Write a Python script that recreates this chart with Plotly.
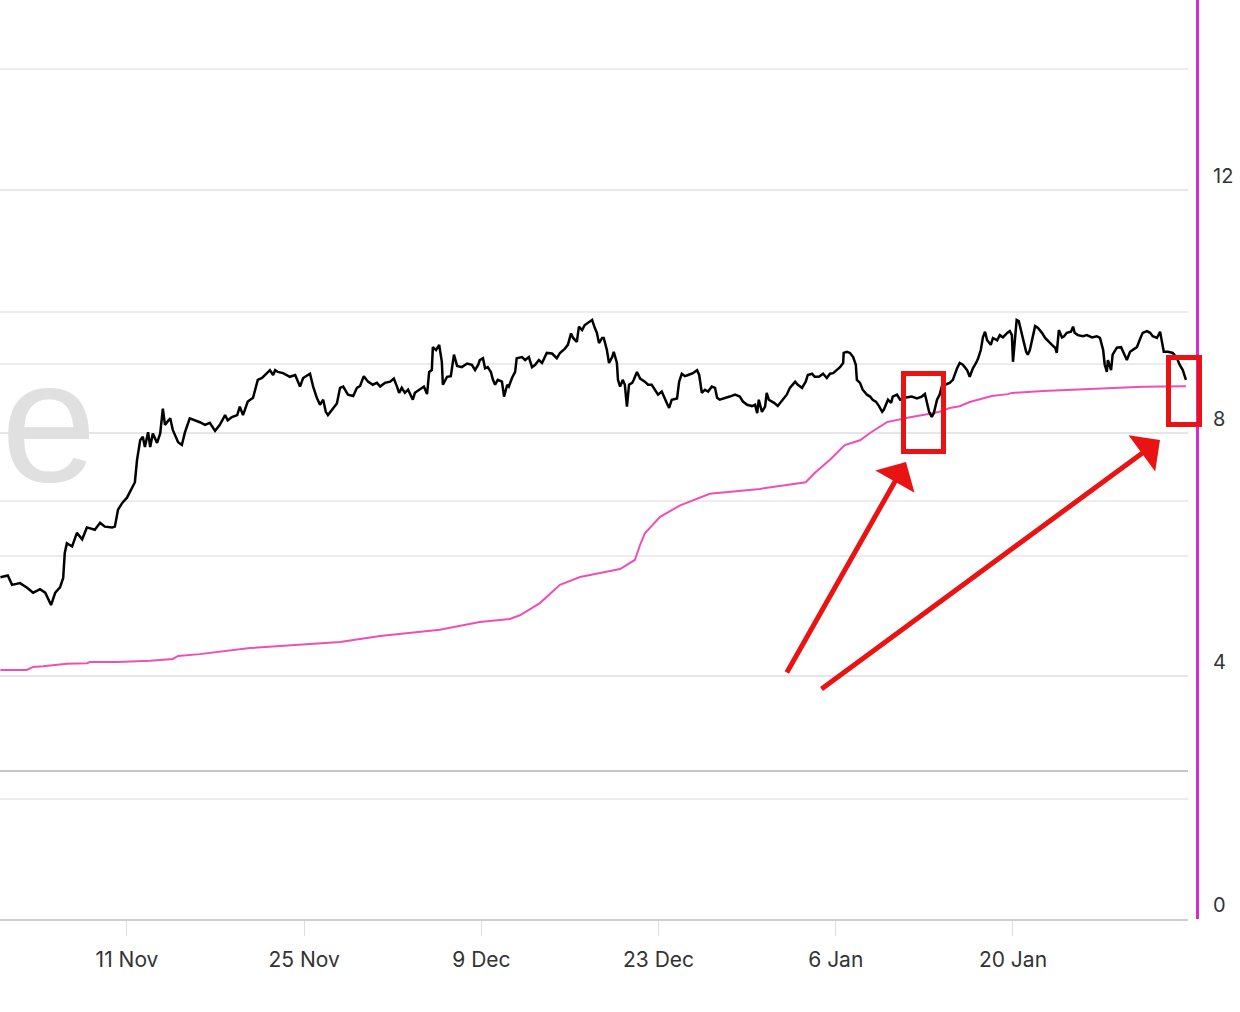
import pandas as pd
import plotly.graph_objects as go

# ---------------- data ----------------
START = pd.Timestamp("2024-11-01 00:00")

# BTC price (USD), hours since START
btc_hours = [0,14,22,37,50,62,69,75,85,96,104,113,119,122,126,136,145,155,164,179,189,198,212,217,223,231,240,250,255,259,265,270,274,280,284,289,297,303,308,312,322,327,337,344,350,359,369,378,388,397,407,416,426,431,439,449,454,
             460,469,479,488,496,502,511,517,521,526,536,549,559,568,574,587,593,600,606,612,617,621,629,638,644,650,659,669,676,682,689,697,706,714,720,729,739,746,752,756,761,767,773,782,786,796,803,809,813,818,820,826,832,837,839,847,854,860,866,875,885,894,900,906,
             909,915,919,924,930,934,938,943,951,955,961,964,970,976,979,989,995,1002,1008,1014,1021,1027,1036,1046,1055,1061,1070,1076,1082,1086,1093,1097,1103,1108,1114,1122,1127,1131,1135,1141,1144,1150,1154,1160,1163,1169,1171,1175,1180,1184,1188,1192,1198,1201,1207,1213,1222,1228,1235,1241,1247,1254,1260,1264,1268,1273,1283,1287,1292,1298,1304,1313,1321,1325,1330,1336,1342,1349,1355,1359,1364,
             1374,1383,1393,1402,1408,1416,1425,1431,1435,1438,1444,1450,1453,1457,1463,1467,1474,1484,1491,1497,1507,1512,1520,1527,1531,1539,1544,1552,1560,1567,1573,1579,1586,1592,1598,1599,1605,1611,1617,1622,1624,1630,1635,1643,1649,1654,1660,1666,1672,1675,1679,1683,1689,1692,1700,1706,1715,1728,1738,1747,1753,1757,1761,1766,1770,1776,1781,1785,1791,1800,1806,1814,
             1819,1825,1833,1838,1844,1850,1854,1859,1863,1867,1871,1878,1882,1890,1895,1901,1909,1914,1918,1920,1924,1927,1931,1937,1941,1945,1948,1952,1958,1962,1967,1975,1981,1986,1994,2000,2003,2007,2013,2017,2022,2030,2034,2037,2043,2053,2060,2070,2079,2085,2091,2094,2098,2100,2106,2109,2117,2125,2130,2136,2142,2147,2155,2161,2166,2174,2180,2185,2193,2199,2202,2206,2214,2223,2231,2236,2242,2248]

btc_price = [70200,70400,69300,69500,69000,68400,68600,68800,68400,67000,68400,69000,70100,73100,74300,73900,75600,74800,76300,76000,76900,76400,76300,76400,78600,79500,80200,81500,82300,85400,88300,88800,87300,89500,87300,89300,87900,89300,93100,90600,91600,89800,88000,87600,89500,91600,91300,91000,90600,90900,89700,90600,92100,91300,91800,92100,93400,
             92100,94200,94800,97700,98000,98500,99300,98500,99300,99000,98800,98200,98500,96600,98000,98700,96600,94800,93700,94500,92600,92100,92900,93900,96400,96600,95300,95100,96400,96700,98300,97400,96900,97200,96600,97200,97400,97900,96600,95600,96400,95600,96100,94500,95600,96200,96600,95400,99000,99300,103200,102700,103600,100700,96900,98200,98300,101900,100000,99800,100400,100200,99300,100200,
             101000,101300,99600,99800,99000,97700,96900,97700,97400,95000,96900,96600,98000,99000,101300,101500,101000,101500,99800,100200,101000,100500,102200,102100,101300,102200,102900,103600,105600,104800,104100,106800,106200,107100,107500,108000,106600,105700,103900,104800,104800,102700,100500,101500,102400,100500,97700,96600,97700,96900,93400,96900,97200,97700,99000,97900,97400,96900,96900,96100,95300,95800,94800,93900,93200,94500,94700,97400,98700,98300,98500,98800,99300,98500,95600,96100,95800,96600,96400,94800,94500,
             94700,95000,95300,95000,94200,93700,93500,93700,92400,94500,92600,93400,95600,94500,94200,94000,93500,94500,95300,96400,97400,96900,96400,97400,98500,98700,98200,98200,98700,98000,98700,98800,99300,99800,100500,102200,102400,102200,101500,100200,97700,97200,96100,95300,95000,94500,94200,93500,92600,92900,93700,94500,94000,95000,95300,94500,94800,95000,94700,95000,95400,94000,92600,91800,92400,94500,95300,96600,96900,97200,97700,99600,
             100500,100200,99300,98200,99600,100500,101300,102700,104900,105900,104400,103600,104800,104400,105300,104900,105700,106000,105300,100700,105700,108000,107800,105700,103900,102400,101900,102700,104900,106900,106600,105700,104800,104400,103600,103100,102200,106200,104900,105100,105700,105900,106800,105700,105300,105100,105300,104900,105100,104800,102700,100200,99000,101000,99300,101900,103100,103200,102200,101000,102400,102700,103200,104600,105700,106000,105700,105100,104800,105900,104400,102400,102400,102200,101300,100200,99300,97700]

# pink cumulative metric (right axis), hours since START
metric_hours = [0,50,62,81,126,164,170,221,284,327,337,378,473,644,720,833,909,966,985,1023,1061,1099,1175,1203,1213,1222,1251,1289,1345,1440,1527,1544,1573,1601,1630,1649,1681,1706,1725,1757,1781,1800,1819,1838,1871,1880,1910,1918,1977,2072,2166,2248]
metric_vals = [4.10,4.10,4.15,4.16,4.20,4.21,4.23,4.23,4.25,4.28,4.33,4.36,4.46,4.56,4.66,4.76,4.89,4.94,5.00,5.20,5.50,5.63,5.76,5.91,6.16,6.35,6.62,6.81,7.00,7.08,7.19,7.34,7.56,7.80,7.88,8.00,8.18,8.23,8.26,8.31,8.35,8.41,8.44,8.51,8.58,8.61,8.64,8.66,8.69,8.72,8.76,8.77]

x_tick_dates = ["2024-11-11", "2024-11-25", "2024-12-09", "2024-12-23", "2025-01-06", "2025-01-20"]
y_right_ticks = [0, 4, 8, 12]

btc_time = START + pd.to_timedelta(btc_hours, unit="h")
metric_time = START + pd.to_timedelta(metric_hours, unit="h")

# ---------------- figure ----------------
W, H = 1240, 1012
MB = 93
PH = H - MB
def px_x(p):
    return p / W
def px_y(p):
    return (PH - p) / PH

fig = go.Figure()
fig.add_trace(go.Scatter(x=metric_time, y=metric_vals, mode="lines", yaxis="y",
                         line=dict(color="#ee4fb6", width=2), hoverinfo="skip"))
fig.add_trace(go.Scatter(x=btc_time, y=btc_price, mode="lines", yaxis="y2",
                         line=dict(color="#000000", width=2.5), hoverinfo="skip"))

FONT = "Inter, Open Sans, sans-serif"

shapes = []
for gy in [69, 312, 364, 501, 556, 799]:
    shapes.append(dict(type="line", xref="paper", yref="paper", x0=0, x1=px_x(1188),
                       y0=px_y(gy), y1=px_y(gy), line=dict(color="#e6e6e6", width=1.5), layer="below"))
shapes.append(dict(type="line", xref="paper", yref="paper", x0=0, x1=px_x(1188),
                   y0=px_y(771), y1=px_y(771), line=dict(color="#c6c6c6", width=2), layer="below"))
# red highlight boxes
for (a, b, c, d) in [(903.5, 373.5, 943.5, 451.5), (1168.5, 357.5, 1199.5, 424.5)]:
    shapes.append(dict(type="rect", xref="paper", yref="paper", x0=px_x(a), x1=px_x(c),
                       y0=px_y(b), y1=px_y(d), line=dict(color="#ea1313", width=5), layer="above"))

annotations = [
    dict(text="e", xref="paper", yref="paper", x=0, y=px_y(421), xanchor="left", yanchor="middle",
         borderpad=0, showarrow=False,
         font=dict(family="Liberation Sans, Arial", size=172, color="#e0e0e0")),
    dict(text="", xref="paper", yref="paper", x=px_x(906), y=px_y(462), ax=-120, ay=212,
         showarrow=True, arrowhead=1, arrowsize=1.5, arrowwidth=5, arrowcolor="#ea1313", standoff=0),
    dict(text="", xref="paper", yref="paper", x=px_x(1160), y=px_y(440), ax=-340, ay=250,
         showarrow=True, arrowhead=1, arrowsize=1.5, arrowwidth=5, arrowcolor="#ea1313", standoff=0),
]

fig.update_layout(
    width=W, height=H,
    margin=dict(l=0, r=0, t=0, b=MB),
    paper_bgcolor="white", plot_bgcolor="white",
    showlegend=False,
    font=dict(family=FONT, size=20, color="#333333"),
    xaxis=dict(type="date", domain=[0, px_x(1188)],
               range=["2024-10-31 23:12", "2025-02-02 19:54"],
               tickvals=x_tick_dates, tickformat="%-d %b",
               ticks="outside", ticklen=15, tickcolor="#dddddd", tickwidth=1,
               ticklabelstandoff=6,
               showline=True, linecolor="#cfcfcf", linewidth=2,
               showgrid=False, zeroline=False,
               tickfont=dict(family=FONT, size=21, color="#333333")),
    yaxis=dict(side="right", anchor="free", position=px_x(1197),
               range=[0, PH / 60.75], tickvals=y_right_ticks,
               ticks="", ticklabelposition="outside top", ticklabelstandoff=10,
               showline=True, linecolor="#d52bd0", linewidth=3,
               showgrid=True, gridcolor="#e6e6e6", gridwidth=1.5, zeroline=False,
               tickfont=dict(family=FONT, size=20, color="#333333")),
    yaxis2=dict(overlaying="y", type="log", range=[4.59765, 5.26622], visible=False),
    shapes=shapes,
    annotations=annotations,
)

fig.write_html("out.html")
